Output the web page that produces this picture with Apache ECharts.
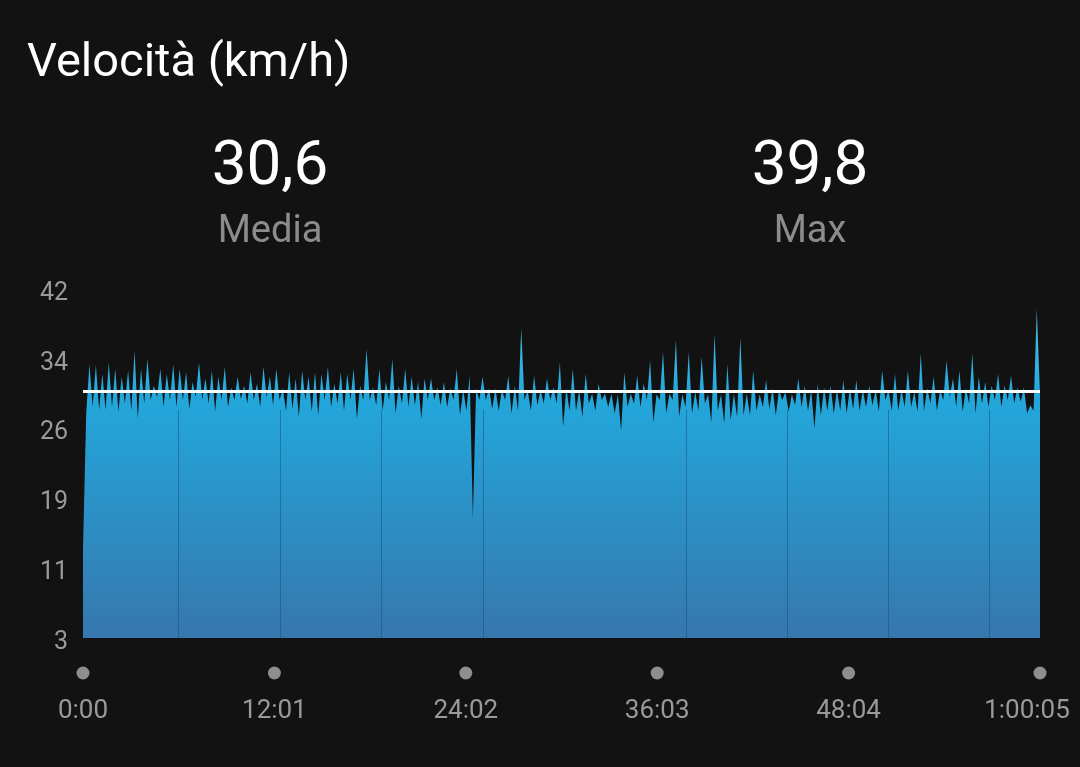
<!DOCTYPE html>
<html>
<head>
<meta charset="utf-8">
<script src="https://cdn.jsdelivr.net/npm/echarts@6/dist/echarts.min.js"></script>
<style>
html,body{margin:0;padding:0;background:#121212;}
#chart{width:1080px;height:767px;}
</style>
</head>
<body>
<div id="chart"></div>
<script>
// ---- data ----
const chartTitle = 'Velocità (km/h)';
const statValues = [30.6, 39.8];
const statLabels = ['Media', 'Max'];
const totalSeconds = 3605;
const xTickValues = [0, 721, 1442, 2163, 2884, 3605];
const xTickLabels = ['0:00', '12:01', '24:02', '36:03', '48:04', '1:00:05'];
const yTickValues = [3, 10.8, 18.6, 26.4, 34.2, 42];
const yTickLabels = ['3', '11', '19', '26', '34', '42'];
const lapTimes = [358, 742, 1123, 1507, 2271, 2652, 3032, 3413];
// speed samples (km/h), evenly spaced in time from 0:00 to 1:00:05
const speedPart1 = [13.0, 28.1,
 33.6, 28.8, 33.5, 28.5, 32.5, 28.5, 33.8, 28.8, 33.1, 28.3, 32.2, 29.2, 32.9, 28.4, 35.1, 27.5, 33.1, 29.2, 34.2, 29.6, 31.2, 29.9, 33.1, 28.8, 32.5, 29.6, 33.6, 28.8, 33.1, 29.6, 32.7, 28.6, 31.6, 29.9, 33.8, 29.6, 32.0, 29.2, 32.9, 28.3, 32.2, 29.6, 33.3, 28.8, 31.0, 29.6, 32.2, 29.7, 31.2];
const speedPart2 = [29.2, 32.7, 29.6, 31.4, 28.8, 33.3, 29.9, 32.2, 29.0, 33.1, 29.6, 30.9, 28.4, 32.7, 28.6, 32.0, 27.7, 32.9, 29.6, 32.2, 28.3, 32.7, 27.9, 32.5, 29.6, 33.3, 28.8, 31.4, 29.2, 32.7, 28.4, 32.5, 29.6, 33.1, 27.5, 31.2, 29.6, 35.3, 29.6, 31.0, 29.0, 33.1, 28.4, 31.6, 29.6, 34.2, 28.1, 31.2, 29.2, 33.1, 28.8, 32.2];
const speedPart3 = [29.0, 31.6, 27.5, 32.0, 29.6, 32.0, 29.6, 31.0, 29.0, 31.6, 28.8, 30.9, 29.6, 33.1, 27.9, 30.7, 28.4, 32.3, 16.4, 30.9, 29.6, 32.2, 29.6, 30.9, 28.6, 30.9, 28.4, 30.7, 29.6, 32.3, 28.1, 31.2, 28.4, 37.6, 29.6, 30.7, 28.4, 32.3, 29.0, 30.7, 29.2, 32.0, 29.6, 31.0, 29.2, 33.8, 26.6, 30.9, 28.4, 33.1];
const speedPart4 = [28.4, 30.7, 27.7, 32.5, 29.2, 30.3, 28.4, 31.4, 29.6, 30.3, 28.8, 30.3, 28.1, 30.2, 26.2, 32.7, 28.8, 30.3, 29.2, 32.3, 28.8, 31.4, 29.6, 34.0, 27.1, 30.2, 29.6, 35.0, 28.1, 30.3, 29.6, 36.3, 27.7, 30.2, 28.8, 35.0, 28.1, 30.5, 28.4, 34.4, 29.2, 30.2, 27.1, 37.0, 28.4, 30.2, 27.0, 33.6];
const speedPart5 = [27.3, 30.3, 27.7, 36.6, 27.9, 30.3, 27.9, 32.9, 28.4, 30.2, 28.8, 31.8, 28.6, 30.9, 27.9, 30.7, 29.6, 30.5, 28.3, 30.2, 29.0, 32.0, 28.8, 31.2, 28.4, 30.7, 26.4, 31.4, 27.9, 31.0, 28.4, 31.2, 28.1, 30.7, 28.4, 31.8, 28.1, 30.9, 28.6, 31.8, 28.4, 30.7, 28.8, 31.2, 29.0, 30.7, 28.3, 32.9, 29.6, 30.7];
const speedPart6 = [28.4, 32.5, 28.4, 30.7, 28.8, 32.9, 28.8, 30.5, 28.3, 34.8, 28.4, 30.9, 29.2, 32.2, 28.4, 30.7, 29.6, 34.0, 29.9, 32.0, 28.8, 32.9, 28.3, 30.9, 29.2, 34.8, 28.1, 32.2, 29.2, 31.6, 28.8, 31.2, 29.6, 32.5, 28.8, 31.2, 29.6, 32.3, 29.2, 31.0, 29.4, 31.0, 28.1, 29.0, 28.4, 39.8, 30.2];

// ---- build ----
const speeds = [].concat(speedPart1, speedPart2, speedPart3, speedPart4, speedPart5, speedPart6);
const step = totalSeconds / (speeds.length - 1);
const seriesData = speeds.map((v, i) => [i * step, v]);
const fmt = v => v.toFixed(1).replace('.', ',');
const FONT = 'Roboto';

const chart = echarts.init(document.getElementById('chart'), null, {renderer: 'canvas'});
chart.setOption({
  backgroundColor: '#121212',
  animation: false,
  title: [
    {text: chartTitle, left: 27, top: 41, padding: 0,
     textStyle: {color: '#ffffff', fontSize: 47, fontWeight: 'normal', fontFamily: FONT}},
    {text: fmt(statValues[0]), left: 270, top: 137, padding: 0, textAlign: 'center',
     textStyle: {color: '#ffffff', fontSize: 62, fontWeight: 'normal', fontFamily: FONT}},
    {text: statLabels[0], left: 270, top: 213, padding: 0, textAlign: 'center',
     textStyle: {color: '#8c8c8c', fontSize: 38, fontWeight: 'normal', fontFamily: FONT}},
    {text: fmt(statValues[1]), left: 810, top: 137, padding: 0, textAlign: 'center',
     textStyle: {color: '#ffffff', fontSize: 62, fontWeight: 'normal', fontFamily: FONT}},
    {text: statLabels[1], left: 810, top: 213, padding: 0, textAlign: 'center',
     textStyle: {color: '#8c8c8c', fontSize: 38, fontWeight: 'normal', fontFamily: FONT}}
  ],
  grid: {left: 83, right: 40, top: 289, height: 349, containLabel: false, outerBoundsMode: 'none'},
  xAxis: {
    type: 'value', min: 0, max: totalSeconds, interval: 721,
    axisLine: {show: false}, axisTick: {show: false}, splitLine: {show: false},
    axisLabel: {
      show: true, margin: 23, showMinLabel: true, showMaxLabel: true, hideOverlap: false,
      formatter: v => {
        const idx = xTickValues.indexOf(Math.round(v));
        if (idx < 0) return '';
        const style = idx === xTickValues.length - 1 ? 'tl' : 't';
        return '{d|}\n{' + style + '|' + xTickLabels[idx] + '}';
      },
      rich: {
        d: {width: 13, height: 13, lineHeight: 24, backgroundColor: '#8e8e8e', borderRadius: 7, align: 'center'},
        t: {color: '#9a9a9a', fontSize: 26, fontFamily: FONT, lineHeight: 52, align: 'center'},
        tl: {color: '#9a9a9a', fontSize: 26, fontFamily: FONT, lineHeight: 52, align: 'center', padding: [0, 26, 0, 0]}
      }
    }
  },
  yAxis: {
    type: 'value', min: 3, max: 42,
    axisLine: {show: false}, axisTick: {show: false}, splitLine: {show: false},
    axisLabel: {
      customValues: yTickValues,
      color: '#9a9a9a', fontSize: 25, fontFamily: FONT, margin: 15,
      verticalAlign: 'top', lineHeight: 9,
      formatter: v => {
        const idx = yTickValues.findIndex(t => Math.abs(t - v) < 1e-6);
        return idx < 0 ? '' : yTickLabels[idx];
      }
    }
  },
  series: [{
    type: 'line',
    data: seriesData,
    showSymbol: false,
    symbol: 'none',
    sampling: 'none',
    lineStyle: {width: 0, opacity: 0},
    areaStyle: {
      opacity: 1,
      color: new echarts.graphic.LinearGradient(0, 289, 0, 638, [
        {offset: 0, color: '#5cc4ec'},
        {offset: 0.3, color: '#22a8dc'},
        {offset: 1, color: '#3677ae'}
      ], true)
    },
    markLine: {
      silent: true, symbol: 'none', animation: false,
      label: {show: false},
      data: [
        {yAxis: statValues[0], lineStyle: {color: '#ffffff', width: 3, type: 'solid'}}
      ].concat(lapTimes.map(t => [
        {coord: [t, 3], lineStyle: {color: 'rgba(20,70,110,0.45)', width: 1, type: 'solid'}},
        {coord: [t, 28.5]}
      ]))
    }
  }]
});
</script>
</body>
</html>
